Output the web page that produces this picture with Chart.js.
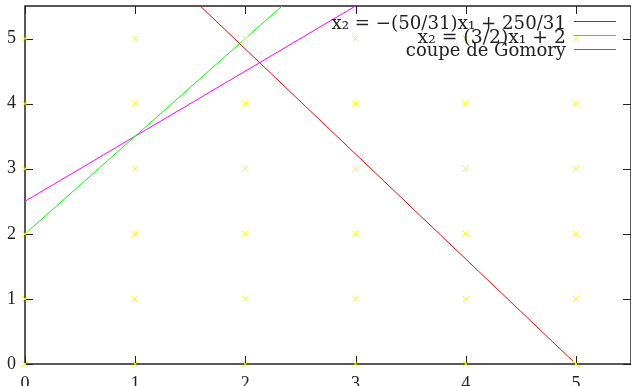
<!DOCTYPE html>
<html>
<head>
<meta charset="utf-8">
<script src="https://cdn.jsdelivr.net/npm/chart.js@4"></script>
<style>
  html, body { margin: 0; padding: 0; background: #fff; overflow: hidden; }
  #wrap { width: 631px; height: 386px; }
  canvas { display: block; }
</style>
</head>
<body>
<div id="wrap"><canvas id="gomoryChart"></canvas></div>
<script>
// integer lattice points
const gridX = [0, 1, 2, 3, 4, 5];
const gridY = [0, 1, 2, 3, 4, 5];

// constraint lines (end points, clipped by the plot area)
const redX = [0, 5];
const redY = [8.065, 0];
const greenX = [0, 3];
const greenY = [2, 6.5];
const gomoryX = [0, 3.5];
const gomoryY = [2.5, 6];

const xTicks = [0, 1, 2, 3, 4, 5];
const yTicks = [0, 1, 2, 3, 4, 5];

const legendLabels = ['x₂ = −(50/31)x₁ + 250/31', 'x₂ = (3/2)x₁ + 2', 'coupe de Gomory'];
const legendColors = ['#ff0000', '#00ff00', '#ff00ff'];

const toPts = (xs, ys) => xs.map((x, i) => ({ x: x, y: ys[i] }));

const lattice = [];
gridX.forEach(x => gridY.forEach(y => lattice.push({ x: x, y: y })));

// gnuplot style frame with inward ticks on all four sides
const framePlugin = {
  id: 'frame',
  beforeDatasetsDraw(chart) {
    const { ctx, chartArea: a, scales } = chart;
    ctx.save();
    ctx.strokeStyle = '#222';
    ctx.lineWidth = 1.5;
    ctx.strokeRect(a.left, a.top, a.right - a.left, a.bottom - a.top);
    ctx.lineWidth = 1;
    ctx.beginPath();
    xTicks.forEach(v => {
      const px = Math.round(scales.x.getPixelForValue(v)) + 0.5;
      ctx.moveTo(px, a.bottom); ctx.lineTo(px, a.bottom - 8);
      ctx.moveTo(px, a.top); ctx.lineTo(px, a.top + 8);
    });
    yTicks.forEach(v => {
      const py = Math.round(scales.y.getPixelForValue(v)) + 0.5;
      ctx.moveTo(a.left, py); ctx.lineTo(a.left + 8, py);
      ctx.moveTo(a.right, py); ctx.lineTo(a.right - 8, py);
    });
    ctx.stroke();
    ctx.restore();
  },
  afterDraw(chart) {
    const { ctx } = chart;
    const rows = [29, 43, 56];
    const lineY = [21, 35, 49];
    const fonts = ['18.2px "DejaVu Serif"', '18.8px "DejaVu Serif"', '18px "DejaVu Serif"'];
    ctx.save();
    legendLabels.forEach((t, i) => {
      ctx.font = fonts[i];
      ctx.fillStyle = '#222';
      ctx.textAlign = 'right';
      ctx.textBaseline = 'alphabetic';
      ctx.fillText(t, 566, rows[i]);
      ctx.strokeStyle = legendColors[i];
      ctx.lineWidth = 1;
      ctx.beginPath();
      ctx.moveTo(574, lineY[i] + 0.5);
      ctx.lineTo(616, lineY[i] + 0.5);
      ctx.stroke();
    });
    ctx.restore();
  }
};

const tickFont = { family: '"Liberation Serif", serif', size: 18 };

new Chart(document.getElementById('gomoryChart'), {
  type: 'scatter',
  data: {
    datasets: [
      {
        label: 'points',
        data: lattice,
        showLine: false,
        pointStyle: 'crossRot',
        pointRadius: 4.5,
        pointBorderColor: '#f4f400',
        pointBorderWidth: 1,
        clip: false
      },
      {
        label: legendLabels[0],
        data: toPts(redX, redY),
        showLine: true,
        borderColor: legendColors[0],
        borderWidth: 1,
        pointRadius: 0
      },
      {
        label: legendLabels[1],
        data: toPts(greenX, greenY),
        showLine: true,
        borderColor: legendColors[1],
        borderWidth: 1,
        pointRadius: 0
      },
      {
        label: legendLabels[2],
        data: toPts(gomoryX, gomoryY),
        showLine: true,
        borderColor: legendColors[2],
        borderWidth: 1,
        pointRadius: 0
      }
    ]
  },
  options: {
    responsive: true,
    maintainAspectRatio: false,
    animation: false,
    layout: { autoPadding: false, padding: { top: 6, left: 0, right: 0, bottom: 0 } },
    plugins: {
      legend: { display: false },
      tooltip: { enabled: false }
    },
    scales: {
      x: {
        type: 'linear',
        min: 0,
        max: 5.5,
        grid: { display: false, drawTicks: false },
        border: { display: false },
        ticks: { font: tickFont, color: '#222', padding: 9, maxRotation: 0 },
        afterBuildTicks: s => { s.ticks = xTicks.map(v => ({ value: v })); },
        afterFit: s => {
          s.height = 22;
          s.paddingLeft = 0; s.paddingRight = 0;
        }
      },
      y: {
        type: 'linear',
        min: 0,
        max: 5.5,
        grid: { display: false, drawTicks: false },
        border: { display: false },
        ticks: { font: tickFont, color: '#222', padding: 9 },
        afterBuildTicks: s => { s.ticks = yTicks.map(v => ({ value: v })); },
        afterFit: s => {
          s.width = 25;
          s.paddingTop = 0; s.paddingBottom = 0;
        }
      }
    }
  },
  plugins: [framePlugin]
});
</script>
</body>
</html>
